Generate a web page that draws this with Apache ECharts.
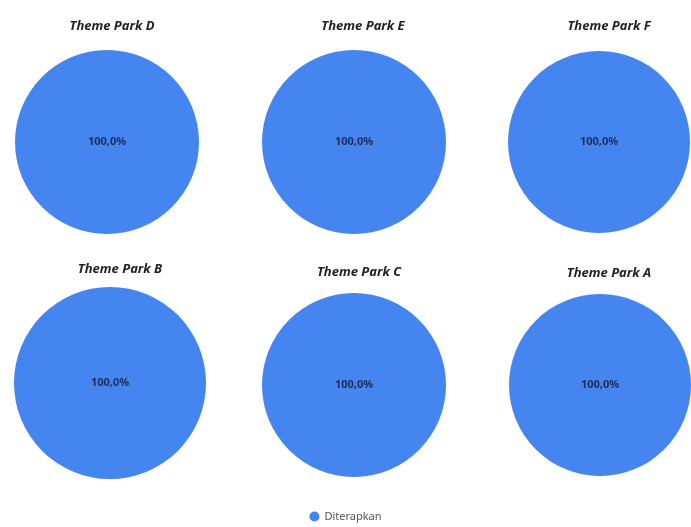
<!DOCTYPE html>
<html>
<head>
<meta charset="utf-8">
<style>
  html, body { margin: 0; padding: 0; background: #ffffff; }
  #chart { width: 691px; height: 527px; }
</style>
<script src="https://cdn.jsdelivr.net/npm/echarts@6/dist/echarts.min.js"></script>
</head>
<body>
<div id="chart"></div>
<script>
// Parks in drawing order (top row, then bottom row)
const parks = ['Theme Park D', 'Theme Park E', 'Theme Park F', 'Theme Park B', 'Theme Park C', 'Theme Park A'];
// Share of each park's items with the status "Diterapkan"
const appliedValues = [100, 100, 100, 100, 100, 100];
const statusName = 'Diterapkan';

// Pie centres, radii and title positions for the 3 x 2 grid
const centers = [[107, 142], [354, 142], [599, 142], [110, 383], [354, 385], [600, 385]];
const radii = [92, 92, 91, 96, 92, 91];
const titlePos = [[107, 15], [358, 15], [604, 15], [115, 258], [354, 261], [604, 262]];

const chart = echarts.init(document.getElementById('chart'));

const titles = parks.map((p, i) => ({
  text: p,
  left: titlePos[i][0],
  top: titlePos[i][1],
  textAlign: 'center',
  textStyle: {
    fontFamily: 'Noto Sans',
    fontStyle: 'italic',
    fontWeight: 'bold',
    fontSize: 13,
    color: '#222222'
  }
}));

const series = parks.map((p, i) => ({
  type: 'pie',
  name: p,
  center: centers[i],
  radius: [0, radii[i]],
  startAngle: 90,
  silent: true,
  itemStyle: { color: '#4585ef' },
  label: {
    show: true,
    position: 'center',
    fontFamily: 'Noto Sans',
    fontSize: 11,
    fontWeight: 'bold',
    color: '#1f2d5c',
    formatter: (params) => params.percent.toFixed(1).replace('.', ',') + '%'
  },
  labelLine: { show: false },
  emphasis: { disabled: true },
  data: [{ name: statusName, value: appliedValues[i] }]
}));

chart.setOption({
  animation: false,
  title: titles,
  legend: {
    bottom: 0,
    left: 'center',
    icon: 'circle',
    itemWidth: 10,
    itemHeight: 10,
    itemGap: 10,
    textStyle: { fontFamily: 'Noto Sans', fontSize: 11, color: '#555555' },
    data: [statusName]
  },
  series: series
});
</script>
</body>
</html>
